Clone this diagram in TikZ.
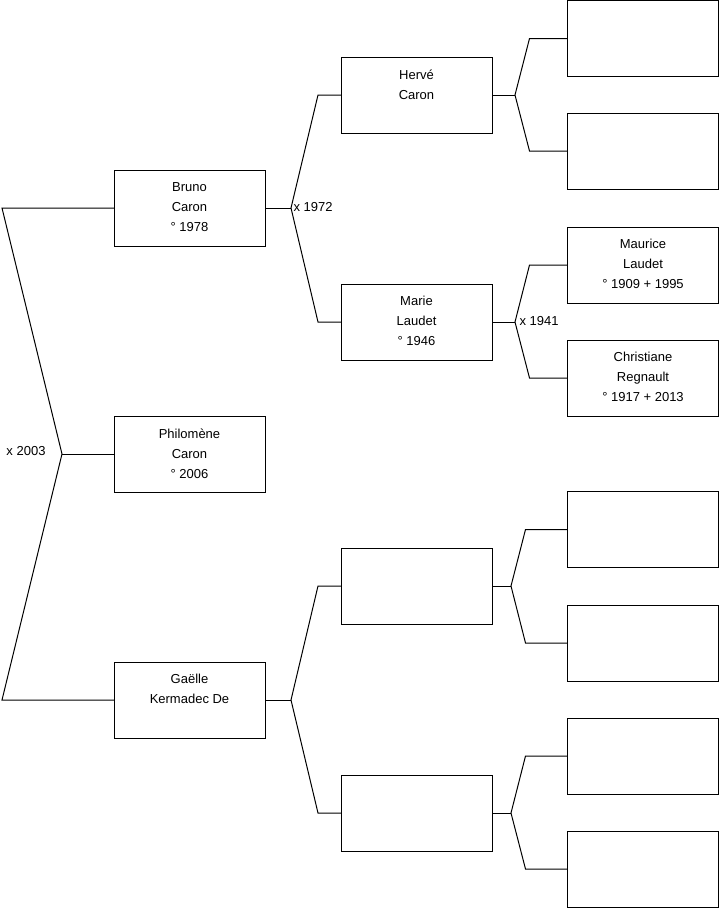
\documentclass[tikz,border=0pt]{standalone}
\usepackage{fontspec}
\setmainfont{Liberation Sans}
\newcommand{\boxtext}[1]{\parbox[c][76pt][t]{151pt}{\centering\fontsize{13}{20}\selectfont\vspace*{12.5pt}#1}}
\begin{document}
\begin{tikzpicture}[x=1pt,y=-1pt,line width=1pt,
  person/.style={draw,fill=white,minimum width=151pt,minimum height=76pt,inner sep=0pt,outer sep=0pt},
  wed/.style={font=\fontsize{13}{15}\selectfont,inner sep=0pt}]
\useasboundingbox (0,0) rectangle (719,908);
% column 1
\node[person] (bruno) at (189.5,208) {\boxtext{Bruno\\Caron\\° 1978}};
\node[person] (philo) at (189.5,454) {\boxtext{Philomène\\Caron\\° 2006}};
\node[person] (gaelle) at (189.5,700) {\boxtext{Gaëlle\\Kermadec De}};
% column 2
\node[person] (herve) at (416.5,95) {\boxtext{Hervé\\Caron}};
\node[person] (marie) at (416.5,322) {\boxtext{Marie\\Laudet\\° 1946}};
\node[person] (e1) at (416.5,586) {};
\node[person] (e2) at (416.5,813) {};
% column 3
\node[person] (h1) at (643,38.5) {};
\node[person] (h2) at (643,151) {};
\node[person] (maurice) at (643,265) {\boxtext{Maurice\\Laudet\\° 1909 + 1995}};
\node[person] (christ) at (643,378) {\boxtext{Christiane\\Regnault\\° 1917 + 2013}};
\node[person] (g1) at (643,529.5) {};
\node[person] (g2) at (643,643) {};
\node[person] (g3) at (643,756) {};
\node[person] (g4) at (643,869) {};
% junctions
\coordinate (j0) at (62,454);
\coordinate (r0a) at (2,208);
\coordinate (r0b) at (2,700);
\coordinate (j1) at (291,208);
\coordinate (j2) at (291,700);
\coordinate (j3) at (515,95);
\coordinate (j4) at (515,322);
\coordinate (j5) at (511,586);
\coordinate (j6) at (511,813);
% connectors
\draw (bruno.west) -- (r0a) -- (j0) -- (r0b) -- (gaelle.west);
\draw (j0) -- (philo.west);
\draw (bruno.east) -- (j1);
\draw (herve.west) -- ([xshift=-23pt]herve.west) -- (j1) -- ([xshift=-23pt]marie.west) -- (marie.west);
\draw (gaelle.east) -- (j2);
\draw (e1.west) -- ([xshift=-23pt]e1.west) -- (j2) -- ([xshift=-23pt]e2.west) -- (e2.west);
\draw (herve.east) -- (j3);
\draw (h1.west) -- ([xshift=-38pt]h1.west) -- (j3) -- ([xshift=-38pt]h2.west) -- (h2.west);
\draw (marie.east) -- (j4);
\draw (maurice.west) -- ([xshift=-38pt]maurice.west) -- (j4) -- ([xshift=-38pt]christ.west) -- (christ.west);
\draw (e1.east) -- (j5);
\draw (g1.west) -- ([xshift=-42pt]g1.west) -- (j5) -- ([xshift=-42pt]g2.west) -- (g2.west);
\draw (e2.east) -- (j6);
\draw (g3.west) -- ([xshift=-42pt]g3.west) -- (j6) -- ([xshift=-42pt]g4.west) -- (g4.west);
% marriage labels
\node[wed,anchor=east] (w0) at (46,451) {x 2003};
\node[wed,anchor=west] (w1) at (293,207) {x 1972};
\node[wed,anchor=west] (w2) at (519,321) {x 1941};
\end{tikzpicture}
\end{document}
